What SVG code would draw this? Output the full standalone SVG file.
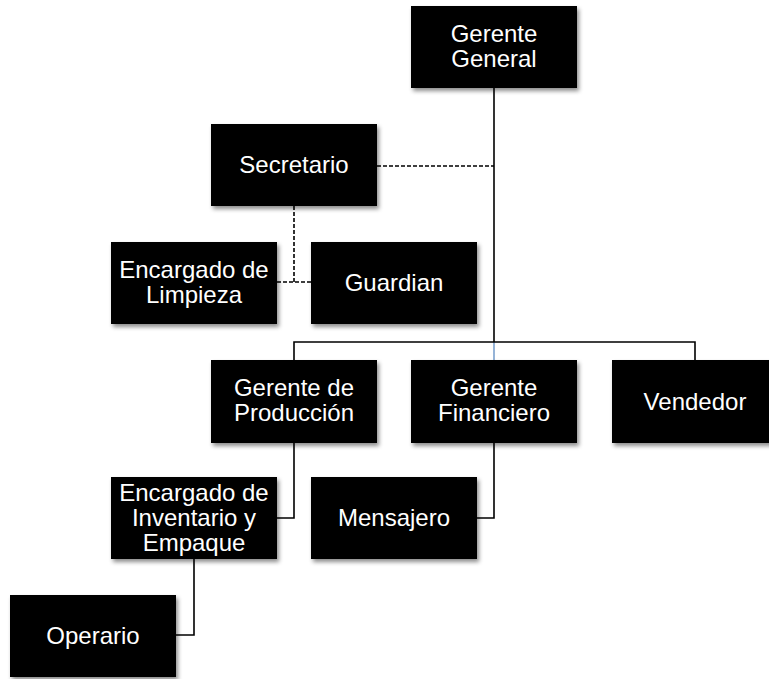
<svg xmlns="http://www.w3.org/2000/svg" width="769" height="679" viewBox="0 0 769 679">
  <defs>
    <filter id="shadow" x="-10%" y="-10%" width="125%" height="130%">
      <feDropShadow dx="2" dy="3" stdDeviation="2" flood-color="#000" flood-opacity="0.45"/>
    </filter>
  </defs>
  <style>
    .box { fill: #000; filter: url(#shadow); }
    .label { fill: #fff; font-family: "Liberation Sans", Arial, sans-serif; font-size: 24px; text-anchor: middle; }
    .solid { fill: none; stroke: #000; stroke-width: 1.6; }
    .dash { fill: none; stroke: #000; stroke-width: 1.6; stroke-dasharray: 4 2; }
  </style>
  <rect width="769" height="679" fill="#fff"/>

  <g id="connectors">
    <!-- trunk from Gerente General to the managers row -->
    <path class="solid" d="M494 88 V342" stroke-width="2"/>
    <path fill="none" stroke="#4f81bd" stroke-width="1.2" d="M494 342 V360"/>
    <path class="solid" d="M294 360 V342 H695 V360"/>
    <!-- staff line to Secretario -->
    <path class="dash" d="M377 166 H494"/>
    <!-- Secretario to Limpieza / Guardian -->
    <path class="dash" d="M294 206 V282"/>
    <path class="dash" d="M277 282 H311"/>
    <!-- lower levels -->
    <path class="solid" d="M294 443 V518 H277"/>
    <path class="solid" d="M494 443 V518 H477"/>
    <path class="solid" d="M194 559 V635 H176"/>
  </g>

  <g id="gerente-general">
    <rect class="box" x="411" y="6" width="166" height="82"/>
    <text class="label" x="494" y="42">Gerente</text>
    <text class="label" x="494" y="67">General</text>
  </g>

  <g id="secretario">
    <rect class="box" x="211" y="124" width="166" height="82"/>
    <text class="label" x="294" y="173">Secretario</text>
  </g>

  <g id="encargado-limpieza">
    <rect class="box" x="111" y="242" width="166" height="82"/>
    <text class="label" x="194" y="278">Encargado de</text>
    <text class="label" x="194" y="303">Limpieza</text>
  </g>

  <g id="guardian">
    <rect class="box" x="311" y="242" width="166" height="82"/>
    <text class="label" x="394" y="291">Guardian</text>
  </g>

  <g id="gerente-produccion">
    <rect class="box" x="211" y="360" width="166" height="83"/>
    <text class="label" x="294" y="396">Gerente de</text>
    <text class="label" x="294" y="421">Producción</text>
  </g>

  <g id="gerente-financiero">
    <rect class="box" x="411" y="360" width="166" height="83"/>
    <text class="label" x="494" y="396">Gerente</text>
    <text class="label" x="494" y="421">Financiero</text>
  </g>

  <g id="vendedor">
    <rect class="box" x="612" y="360" width="166" height="83"/>
    <text class="label" x="695" y="410">Vendedor</text>
  </g>

  <g id="encargado-inventario">
    <rect class="box" x="111" y="477" width="166" height="82"/>
    <text class="label" x="194" y="501">Encargado de</text>
    <text class="label" x="194" y="526">Inventario y</text>
    <text class="label" x="194" y="551">Empaque</text>
  </g>

  <g id="mensajero">
    <rect class="box" x="311" y="477" width="166" height="82"/>
    <text class="label" x="394" y="526">Mensajero</text>
  </g>

  <g id="operario">
    <rect class="box" x="10" y="595" width="166" height="82"/>
    <text class="label" x="93" y="644">Operario</text>
  </g>
</svg>
